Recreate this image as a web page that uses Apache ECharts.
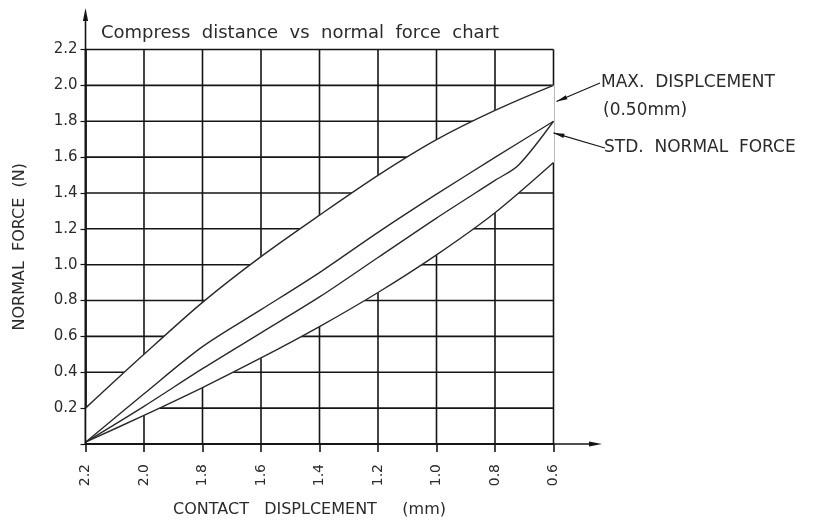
<!DOCTYPE html>
<html><head><meta charset="utf-8">
<script src="https://cdn.jsdelivr.net/npm/echarts@6/dist/echarts.min.js"></script>
<style>html,body{margin:0;padding:0;background:#fff}#c{width:821px;height:524px;background:#fff}</style>
</head><body><div id="c"></div>
<script>
// ---- data ----
const xTicks = [2.2, 2.0, 1.8, 1.6, 1.4, 1.2, 1.0, 0.8, 0.6];            // contact displacement (mm)
const yTicks = [0, 0.2, 0.4, 0.6, 0.8, 1.0, 1.2, 1.4, 1.6, 1.8, 2.0, 2.2]; // normal force (N)
const maxDisplacement = [0.2, 0.5, 0.79, 1.045, 1.276, 1.498, 1.697, 1.86, 2.0];
const stdUpper        = [0.01, 0.28, 0.543, 0.749, 0.956, 1.18, 1.393, 1.598, 1.8];
const stdLowerX       = [2.2, 2.0, 1.8, 1.6, 1.4, 1.2, 1.0, 0.8, 0.72, 0.6];
const stdLower        = [0.01, 0.21, 0.42, 0.62, 0.82, 1.04, 1.26, 1.47, 1.555, 1.8];
const minForce        = [0.01, 0.16, 0.315, 0.48, 0.655, 0.845, 1.055, 1.29, 1.57];
const titleText = 'Compress  distance  vs  normal  force  chart';
const xName = 'CONTACT   DISPLCEMENT     (mm)';
const yName = 'NORMAL  FORCE  (N)';
const note1 = 'MAX.  DISPLCEMENT';
const note2 = '(0.50mm)';
const note3 = 'STD.  NORMAL  FORCE';

const FONT = 'DejaVu Sans';
const INK = '#151515';
const TXT = '#2b2b2b';
const SM = 0.3;
const W = 821, H = 524;
const G = { left: 85.5, right: 267.5, top: 49.5, bottom: 80 };
const X_MIN = 0.6, X_MAX = 2.2, Y_MIN = 0, Y_MAX = 2.2;
function pts(xs, ys) { return xs.map((x, i) => [x, ys[i]]); }
// pixel position of an axis value, used only for the decorations (arrows / callouts)
function px(x, y) {
  const pw = W - G.left - G.right, ph = H - G.top - G.bottom;
  return [G.left + (X_MAX - x) / (X_MAX - X_MIN) * pw, G.top + (Y_MAX - y) / (Y_MAX - Y_MIN) * ph];
}

const chart = echarts.init(document.getElementById('c'));
const lineSeries = (name, xs, ys) => ({
  name, type: 'line', data: pts(xs, ys), symbol: 'none', smooth: SM, z: 6,
  lineStyle: { color: '#2a2a2a', width: 1.4 }
});
const upperEdge = pts(xTicks, maxDisplacement);
const lowerEdge = pts(xTicks, minForce).reverse();

function gridLine(a, b) {
  return { type: 'line', shape: { x1: a[0], y1: a[1], x2: b[0], y2: b[1] },
    style: { stroke: INK, lineWidth: 1.6 } };
}

function arrowHead(tip, from, len, half) {
  const dx = tip[0] - from[0], dy = tip[1] - from[1];
  const d = Math.hypot(dx, dy), ux = dx / d, uy = dy / d;
  const bx = tip[0] - ux * len, by = tip[1] - uy * len;
  return { type: 'polygon', z: 100, silent: true,
    shape: { points: [tip, [bx - uy * half, by + ux * half], [bx + uy * half, by - ux * half]] },
    style: { fill: INK } };
}
function seg(a, b, w) {
  return { type: 'line', z: 100, silent: true,
    shape: { x1: a[0], y1: a[1], x2: b[0], y2: b[1] }, style: { stroke: INK, lineWidth: w } };
}
const txt = (s, x, y) => ({ type: 'text', z: 100, silent: true,
  style: { text: s, x, y, textAlign: 'left', textVerticalAlign: 'middle',
    font: '17px "DejaVu Sans"', fill: TXT } });
const origin = px(2.2, 0);
const yTip = [origin[0], 8];
const xTip = [602, origin[1]];
const t1 = px(0.6, 1.91); t1[0] += 3;
const t2 = px(0.6, 1.735);
const s1 = [600, 83], s2 = [605, 148];

const option = {
  animation: false,
  title: {
    text: titleText, left: 96, top: 19,
    textStyle: { fontFamily: FONT, fontSize: 18, fontWeight: 'normal', color: TXT }
  },
  grid: { left: G.left, right: G.right, top: G.top, bottom: G.bottom, outerBoundsMode: 'none' },
  xAxis: {
    type: 'value', inverse: true, min: X_MIN, max: X_MAX, interval: 0.2,
    axisLine: { show: true, lineStyle: { color: INK, width: 1.6 } },
    axisTick: { show: true, length: 8, lineStyle: { color: INK, width: 1.6 } },
    axisLabel: { rotate: 90, margin: 20, fontFamily: FONT, fontSize: 14, color: TXT,
      formatter: v => Number(v).toFixed(1) },
    splitLine: { show: false },
    name: xName, nameLocation: 'middle', nameGap: 58,
    nameTextStyle: { fontFamily: FONT, fontSize: 16, color: TXT, padding: [0, 20, 0, 0] }
  },
  yAxis: {
    type: 'value', min: Y_MIN, max: Y_MAX, interval: 0.2,
    axisLine: { show: true, lineStyle: { color: INK, width: 1.6 } },
    axisTick: { show: true, length: 5, lineStyle: { color: INK, width: 1.2 } },
    axisLabel: { margin: 8, fontFamily: FONT, fontSize: 15, color: TXT,
      formatter: v => (v === 0 ? '' : Number(v).toFixed(1)) },
    splitLine: { show: false },
    name: yName, nameLocation: 'middle', nameGap: 50, nameRotate: 90,
    nameTextStyle: { fontFamily: FONT, fontSize: 16, color: TXT, padding: [0, 0, 8, 0] }
  },
  graphic: [
    seg(origin, [origin[0], yTip[1] + 8], 1.6), arrowHead(yTip, origin, 13, 2.6),
    seg(origin, [xTip[0] - 8, origin[1]], 1.6), arrowHead(xTip, origin, 13, 2.6),
    seg(s1, t1, 1.1), arrowHead(t1, s1, 11, 2.2),
    seg(s2, t2, 1.1), arrowHead(t2, s2, 11, 2.2),
    txt(note1, 601, 83), txt(note2, 603, 111), txt(note3, 604, 148)
  ],
  series: [
    // vertical grid lines, one per x tick
    { name: 'gridX', type: 'custom', z: 1, silent: true,
      data: xTicks.map(x => [x, Y_MIN]),
      renderItem: (params, api) => gridLine(api.coord([api.value(0), Y_MIN]), api.coord([api.value(0), Y_MAX])) },
    // horizontal grid lines, one per y tick
    { name: 'gridY', type: 'custom', z: 1, silent: true,
      data: yTicks.map(y => [X_MAX, y]),
      renderItem: (params, api) => gridLine(api.coord([X_MAX, api.value(1)]), api.coord([X_MIN, api.value(1)])) },
    // white band between the outer curves, hiding the grid there
    { name: 'band', type: 'custom', z: 3, silent: true,
      data: [[2.2, 0.2]],
      renderItem: (params, api) => {
        const points = upperEdge.concat(lowerEdge).map(p => api.coord(p));
        return { type: 'polygon', shape: { points }, style: { fill: '#ffffff', stroke: '#ffffff', lineWidth: 1 } };
      } },
    lineSeries('Max displacement', xTicks, maxDisplacement),
    lineSeries('Std upper', xTicks, stdUpper),
    lineSeries('Std lower', stdLowerX, stdLower),
    lineSeries('Min', xTicks, minForce)
  ]
};
chart.setOption(option);
</script>
</body></html>
